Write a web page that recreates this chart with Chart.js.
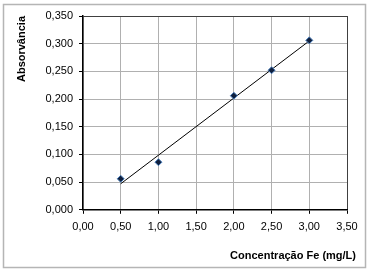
<!DOCTYPE html>
<html>
<head>
<meta charset="utf-8">
<script src="https://cdn.jsdelivr.net/npm/chart.js@4/dist/chart.umd.min.js"></script>
<style>
  html, body { margin: 0; padding: 0; background: #fff; }
  #wrap { width: 375px; height: 272px; position: relative; }
</style>
</head>
<body>
<div id="wrap"><canvas id="c" width="375" height="272"></canvas></div>
<script>
// valores
const concentracao = [0.5, 1.0, 2.0, 2.5, 3.0];
const absorvancia = [0.056, 0.086, 0.206, 0.252, 0.306];
// linha de tendência (extremos)
const trendX = [0.5, 3.0];
const trendY = [0.047, 0.305];

const xTitle = 'Concentração Fe (mg/L)';
const yTitle = 'Absorvância';

const FONT = "'Liberation Sans', Arial, sans-serif";
Chart.defaults.font.family = FONT;
Chart.defaults.font.size = 11;
Chart.defaults.color = '#000';

const fmt = (v, d) => Number(v).toFixed(d).replace('.', ',');

// moldura cinza em volta do gráfico
const frame = {
  id: 'frame',
  beforeDraw(chart) {
    const c = chart.ctx;
    c.save();
    c.strokeStyle = '#b5b5b5';
    c.lineWidth = 1.5;
    c.strokeRect(3.5, 4.5, 362, 263);
    c.restore();
  }
};

new Chart(document.getElementById('c'), {
  type: 'scatter',
  data: {
    datasets: [
      {
        label: 'Absorvância',
        data: concentracao.map((x, i) => ({ x, y: absorvancia[i] })),
        pointStyle: 'rectRot',
        pointRadius: 3.5,
        backgroundColor: '#0f1f3d',
        borderColor: '#4a7ebb',
        borderWidth: 1,
        order: 0
      },
      {
        label: 'Tendência',
        data: trendX.map((x, i) => ({ x, y: trendY[i] })),
        showLine: true,
        pointRadius: 0,
        borderColor: '#000',
        borderWidth: 1,
        order: 1
      }
    ]
  },
  options: {
    responsive: false,
    animation: false,
    layout: { padding: { left: 0, right: 19, top: 16, bottom: 0 } },
    plugins: {
      legend: { display: false },
      tooltip: { enabled: false },
      title: {
        display: true,
        text: xTitle,
        position: 'bottom',
        align: 'end',
        font: { size: 11, weight: 'bold' },
        padding: { top: 0, bottom: 9 }
      }
    },
    scales: {
      x: {
        type: 'linear',
        min: 0, max: 3.5,
        afterFit(s) { s.height = 40; },
        ticks: { stepSize: 0.5, padding: 7, maxRotation: 0, callback: v => fmt(v, 2) },
        grid: {
          color: ctx => ctx.index === 7 ? '#404040' : '#b0b0b0',
          tickColor: '#000',
          tickLength: 4
        },
        border: { color: '#000', width: 1.5 }
      },
      y: {
        min: 0, max: 0.35,
        afterFit(s) { s.width = 83; },
        ticks: { stepSize: 0.05, padding: 6, callback: v => fmt(v, 3) },
        title: {
          display: true,
          text: yTitle,
          align: 'end',
          font: { size: 11, weight: 'bold' },
          padding: { top: 15, bottom: 0 }
        },
        grid: {
          color: ctx => ctx.index === 7 ? '#404040' : '#b0b0b0',
          tickColor: '#000',
          tickLength: 4
        },
        border: { color: '#000', width: 1.5 }
      },
      y2: {
        position: 'right',
        afterFit(s) { s.width = 9; },
        ticks: { display: false },
        grid: { display: false },
        border: { display: false }
      }
    }
  },
  plugins: [frame]
});
</script>
</body>
</html>
